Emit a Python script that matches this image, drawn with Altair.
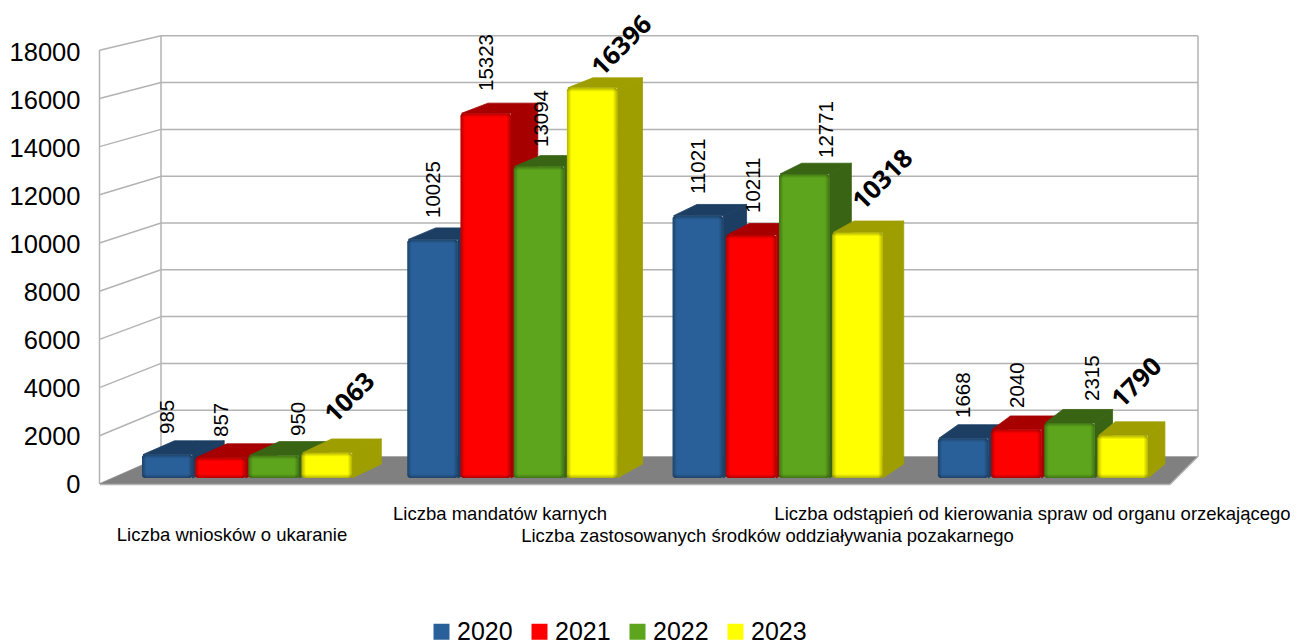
import altair as alt
import pandas as pd

YEARS = ["2020", "2021", "2022", "2023"]
CATEGORIES = [
    "Liczba wniosków o ukaranie",
    "Liczba mandatów karnych",
    "Liczba zastosowanych środków oddziaływania pozakarnego",
    "Liczba odstąpień od kierowania spraw od organu orzekającego",
]
V2020 = [985, 10025, 11021, 1668]
V2021 = [857, 15323, 10211, 2040]
V2022 = [950, 13094, 12771, 2315]
V2023 = [1063, 16396, 10318, 1790]
SERIES = [V2020, V2021, V2022, V2023]
TICKS = list(range(0, 18001, 2000))

FRONT = ["#2a6099", "#ff0000", "#5ca51c", "#ffff00"]
DARK = ["#1c3e63", "#a60000", "#386414", "#9e9e00"]
SANS = "Liberation Sans"
GRID = "#b3b3b3"

# layout (page pixels), used only to project the pseudo-3D scene onto the scales
PAGE_M = 8
LEFT = 92
W, H = 1290, 642
PX_PER = 0.024
AX0 = 484


def v(p):
    return (AX0 - p) / PX_PER


XS = alt.Scale(domain=[LEFT, W], nice=False, zero=False)
YS = alt.Scale(domain=[v(H), v(PAGE_M)], nice=False, zero=False)
Y_AXIS = alt.Axis(
    values=TICKS, title=None, domain=False, ticks=False, grid=False,
    labelFont=SANS, labelFontSize=25.5, labelColor="#000000",
    labelPadding=12, format="d", labelOverlap=False,
)


def enc(**kw):
    out = dict(
        x=alt.X("x:Q", scale=XS, axis=None),
        y=alt.Y("y:Q", scale=YS, axis=Y_AXIS),
    )
    out.update(kw)
    return out


def area(points, color):
    df = pd.DataFrame([{"x": x, "y": v(a), "y1": v(b)} for x, a, b in points])
    return alt.Chart(df).mark_area(
        color=color, orient="vertical", stroke=color, strokeWidth=0.8, strokeJoin="round"
    ).encode(**enc(y2=alt.Y2("y1:Q")))


def line(points, width=1.5):
    df = pd.DataFrame([{"x": x, "y": v(p), "i": i} for i, (x, p) in enumerate(points)])
    return alt.Chart(df).mark_line(color=GRID, strokeWidth=width).encode(
        **enc(order="i:Q")
    )


layers = []

# walls
for k in range(10):
    fy = 484 - 48.2 * k
    by = 457 - 46.8 * k
    layers.append(line([(99.5, fy), (161, by)]))
    layers.append(line([(161, by), (1198, by)]))
layers.append(line([(99.5, 484), (99.5, 50)]))
layers.append(line([(161, 457), (161, 36)]))
layers.append(line([(1198, 457), (1198, 36)]))

# floor
layers.append(area([(100, 484, 484), (161, 484, 457), (1170, 484, 457), (1197, 457, 457)], "#808080"))
layers.append(line([(100, 484.5), (1170, 484.5)], 1.5))
layers.append(line([(1170, 484.5), (1197, 457.5)], 1.5))

# bars
BASE = 478
SCALE = 0.0238
GROUP0 = 142
GROUP_STEP = 265.3
PITCH = 53.2
BW = 50.5


def dx(x):
    return 32.5 - 0.0155 * (x - 142)


def dy(y):
    return 14 - (477 - y) * 0.0105


color_scale = alt.Scale(domain=YEARS, range=FRONT)
legend = alt.Legend(
    title=None, orient="none", legendX=429 - LEFT, legendY=619 - PAGE_M,
    direction="horizontal", symbolType="square", symbolSize=256, symbolStrokeWidth=0,
    symbolOpacity=1, labelFont=SANS, labelFontSize=25, labelColor="#000000",
    labelLimit=100, columnPadding=14, labelOffset=3, symbolOffset=0,
)

for g in range(4):
    for s in range(4):
        val = SERIES[s][g]
        x0 = GROUP0 + g * GROUP_STEP + s * PITCH
        x1 = x0 + BW
        yt = BASE - SCALE * val
        dt = dy(yt)
        db = dy(BASE)
        # side face
        layers.append(area([(x1, yt, BASE), (x1 + dx(x1), yt - dt, BASE - db)], DARK[s]))
        # top face
        layers.append(area([
            (x0 + 1, yt, yt),
            (x0 + dx(x0), yt, yt - dt),
            (x1, yt, yt - dt),
            (x1 + dx(x1), yt - dt, yt - dt),
        ], DARK[s]))
        rect = pd.DataFrame([{"x": x0, "x1": x1, "y": v(yt), "y1": v(BASE), "year": YEARS[s]}])
        layers.append(
            alt.Chart(rect).mark_rect(cornerRadius=3).encode(
                **enc(
                    x2=alt.X2("x1:Q"), y2=alt.Y2("y1:Q"),
                    color=alt.Color("year:N", scale=color_scale, legend=legend),
                )
            )
        )
        ew = 4.5 / BW
        eh = min(0.4, 4 / (BASE - yt))
        edge = "rgba(0,0,0,0.30)"
        clear = "rgba(0,0,0,0)"
        layers.append(
            alt.Chart(rect).mark_rect(
                cornerRadius=3,
                fill=alt.Gradient(
                    gradient="linear", x1=0, x2=1, y1=0, y2=0,
                    stops=[
                        alt.GradientStop(offset=0, color=edge),
                        alt.GradientStop(offset=ew, color=clear),
                        alt.GradientStop(offset=1 - ew, color=clear),
                        alt.GradientStop(offset=1, color=edge),
                    ],
                ),
            ).encode(**enc(x2=alt.X2("x1:Q"), y2=alt.Y2("y1:Q")))
        )
        layers.append(
            alt.Chart(rect).mark_rect(
                cornerRadius=3,
                fill=alt.Gradient(
                    gradient="linear", x1=0, x2=0, y1=0, y2=1,
                    stops=[
                        alt.GradientStop(offset=0, color=edge),
                        alt.GradientStop(offset=eh, color=clear),
                        alt.GradientStop(offset=1 - eh, color=clear),
                        alt.GradientStop(offset=1, color=edge),
                    ],
                ),
            ).encode(**enc(x2=alt.X2("x1:Q"), y2=alt.Y2("y1:Q")))
        )

# data labels: anchor of each label (centre x, start y) per group/series
LABEL_X = [[168, 222, 299], [434, 487, 542], [699, 754, 827], [964, 1018, 1093]]
LABEL_Y = [[434, 437, 436], [218, 91, 147], [194, 213, 158], [418, 408, 401]]
BOLD_X = [350, 622, 883, 1137]
BOLD_Y = [398, 46, 180, 383]

rows = []
for g in range(4):
    for s in range(3):
        rows.append({"x": LABEL_X[g][s], "y": v(LABEL_Y[g][s]), "t": str(SERIES[s][g])})
layers.append(
    alt.Chart(pd.DataFrame(rows)).mark_text(
        angle=270, align="left", baseline="middle", font=SANS, fontSize=20.5, color="#000000"
    ).encode(**enc(text="t:N"))
)
rows = [{"x": BOLD_X[g], "y": v(BOLD_Y[g]), "t": str(V2023[g])} for g in range(4)]
layers.append(
    alt.Chart(pd.DataFrame(rows)).mark_text(
        angle=315, align="center", baseline="middle", font="Open Sans", fontWeight="bold",
        fontSize=25.5, color="#000000"
    ).encode(**enc(text="t:N"))
)

# category labels
CAT_X = [232, 500, 767.5, 1032.5]
CAT_Y = [535, 514, 536, 514]
rows = [{"x": CAT_X[i], "y": v(CAT_Y[i]), "t": CATEGORIES[i]} for i in range(4)]
layers.append(
    alt.Chart(pd.DataFrame(rows)).mark_text(
        align="center", baseline="middle", font=SANS, fontSize=18.5, color="#000000"
    ).encode(**enc(text="t:N"))
)

chart = alt.layer(*layers).properties(
    width=W - LEFT,
    height=H - PAGE_M,
    padding={"left": LEFT - PAGE_M, "top": 0, "right": 0, "bottom": 0},
    autosize=alt.AutoSizeParams(type="none"),
    background="#ffffff",
).configure_view(stroke=None)

chart.save("out.html", embed_options={"renderer": "svg", "actions": False})
